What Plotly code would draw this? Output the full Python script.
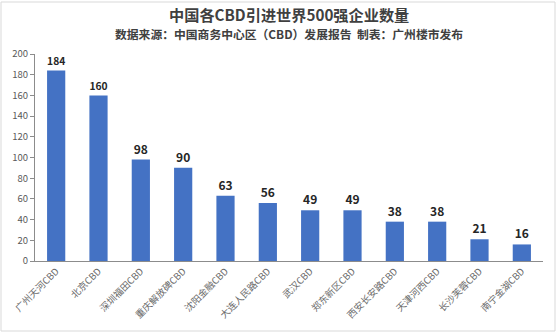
import plotly.graph_objects as go

categories = ["广州天河CBD", "北京CBD", "深圳福田CBD", "重庆解放碑CBD", "沈阳金融CBD", "大连人民路CBD",
              "武汉CBD", "郑东新区CBD", "西安长安路CBD", "天津河西CBD", "长沙芙蓉CBD", "南宁金湖CBD"]
values = [184, 160, 98, 90, 63, 56, 49, 49, 38, 38, 21, 16]
y_ticks = [0, 20, 40, 60, 80, 100, 120, 140, 160, 180, 200]

title = "中国各CBD引进世界500强企业数量"
subtitle = "数据来源：中国商务中心区（CBD）发展报告  制表：广州楼市发布"

font_family = "Noto Sans CJK SC, Noto Sans, sans-serif"

fig = go.Figure(go.Bar(
    x=categories, y=values,
    marker=dict(color="#4472C4", line=dict(width=0)),
    text=[str(v) for v in values], textposition="outside",
    textfont=dict(size=12, color="#262626", family=font_family, weight="bold"),
    cliponaxis=False,
))

plot_h = 333 - 54 - 72

fig.update_layout(
    width=556, height=333,
    margin=dict(l=35, r=13, t=54, b=72),
    paper_bgcolor="white", plot_bgcolor="white",
    bargap=0.57,
    showlegend=False,
    font=dict(family=font_family),
    annotations=[
        dict(text="<b>" + title + "</b>", x=0.5, y=(333 - 72 - 14) / plot_h, xref="paper", yref="paper",
             yanchor="middle", showarrow=False, borderpad=0,
             font=dict(size=15.2, color="#404040")),
        dict(text="<b>" + subtitle + "</b>", x=0.5, y=(333 - 72 - 33) / plot_h, xref="paper", yref="paper",
             yanchor="middle", showarrow=False, borderpad=0,
             font=dict(size=11.8, color="#404040")),
    ],
)

fig.update_yaxes(range=[0, 200], tickvals=y_ticks, showgrid=False, zeroline=False,
                 showline=True, linecolor="#8c8c8c", linewidth=1,
                 ticks="outside", ticklen=4, tickcolor="#8c8c8c",
                 tickfont=dict(size=9.5, color="#595959"))
fig.update_xaxes(showline=True, linecolor="#8c8c8c", linewidth=1, showgrid=False,
                 tickangle=-45, ticks="", tickfont=dict(size=9.5, color="#6a6a6a"))

fig.add_shape(type="rect", xref="paper", yref="paper",
              x0=-34/508, x1=(508+12)/508, y0=-70/plot_h, y1=(plot_h+52)/plot_h,
              line=dict(color="#d9d9d9", width=1))

fig.write_html("out.html")
